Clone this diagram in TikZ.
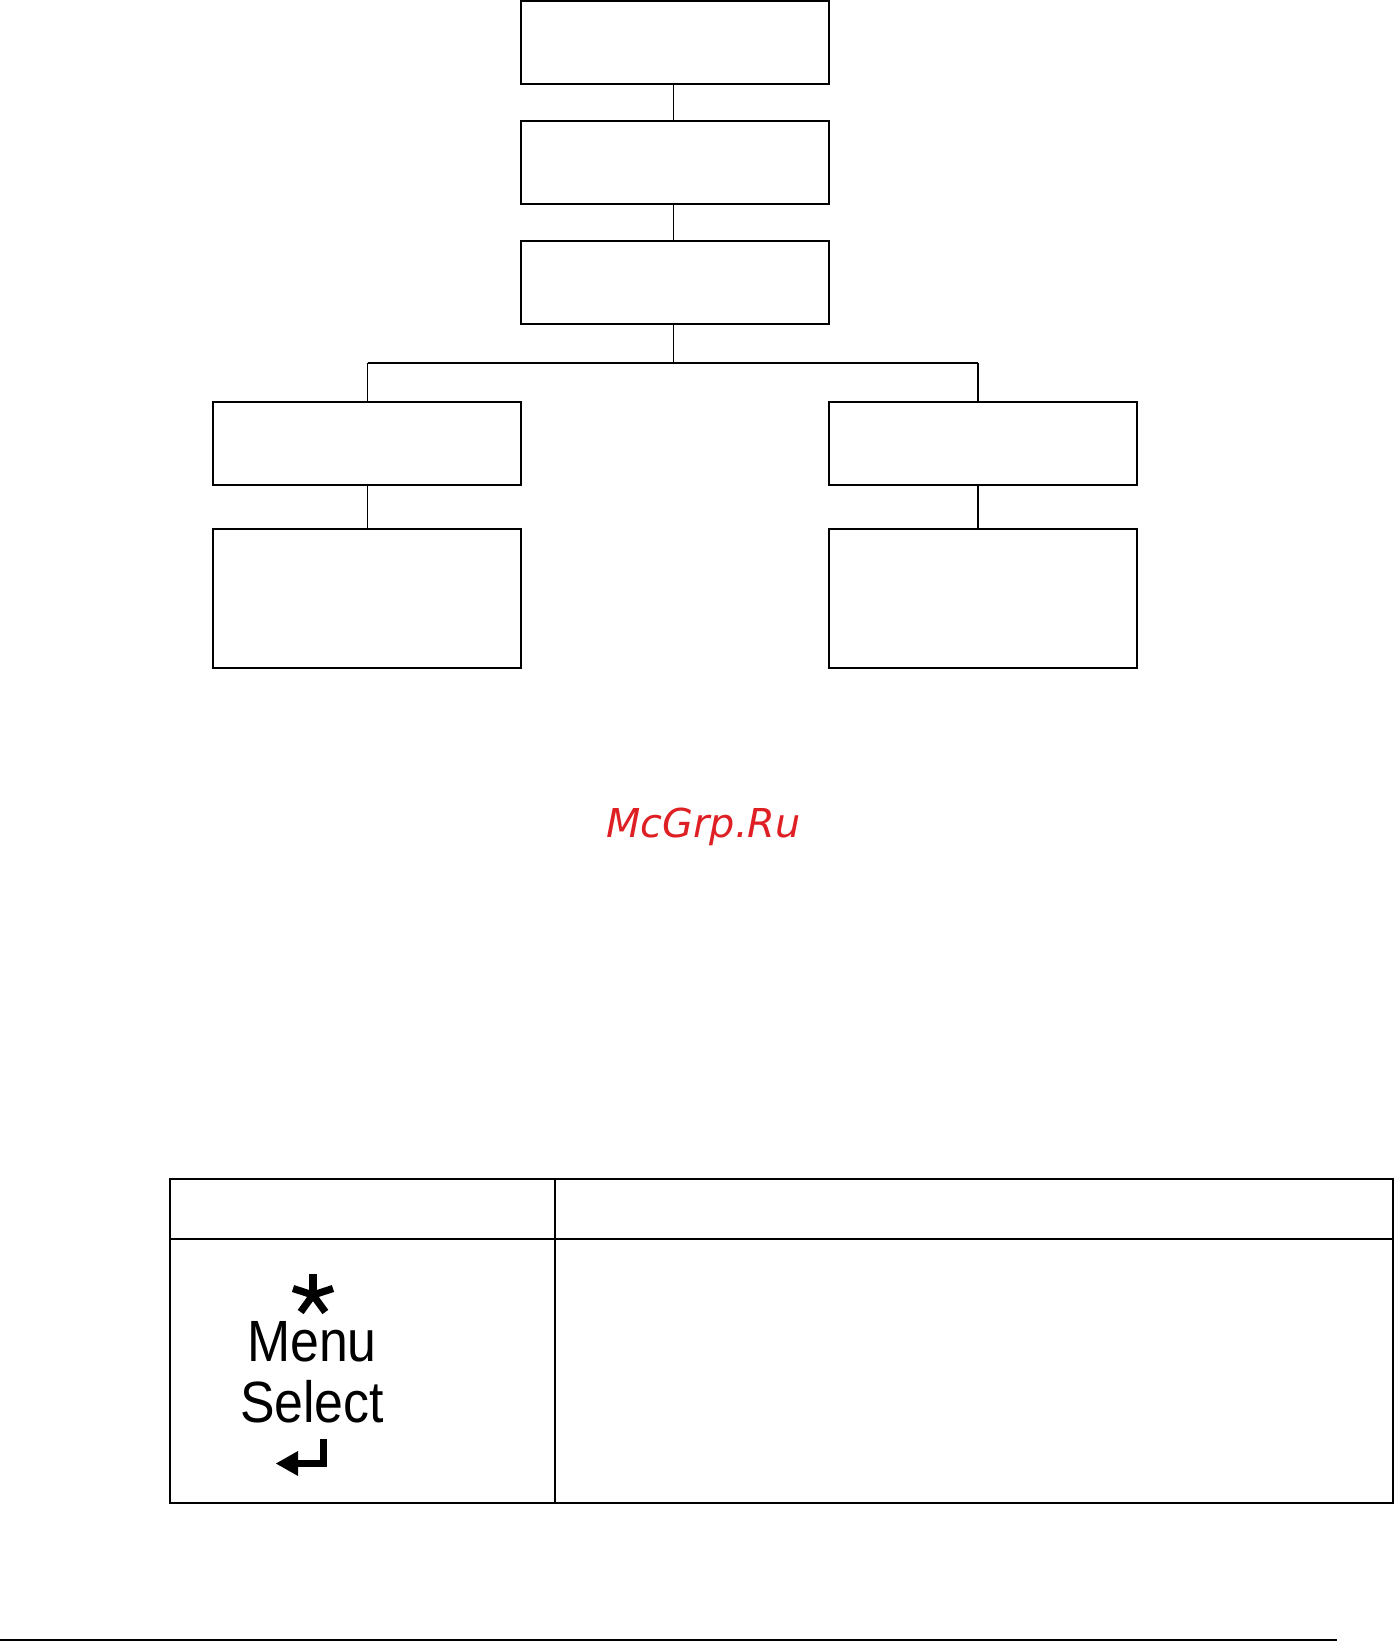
\documentclass[tikz,border=0pt]{standalone}
\usepackage{fontspec}
\setmainfont{Liberation Sans}
\newfontfamily\keyfont[FakeStretch=0.89]{Liberation Sans}
\newfontfamily\wmfont{DejaVu Sans}
\usetikzlibrary{positioning}
\definecolor{wmred}{RGB}{222,32,36}

\begin{document}
\begin{tikzpicture}[x=0.5pt, y=-0.5pt,
  menubox/.style={draw, line width=1pt, inner sep=0pt, minimum width=154pt, minimum height=41.5pt},
  tallbox/.style={menubox, minimum height=69.5pt},
  thinlink/.style={line width=0.5pt},
  thicklink/.style={line width=1pt},
  keytext/.style={anchor=base, inner sep=0pt, font=\keyfont\fontsize{29.1}{35}\selectfont}]

\useasboundingbox (0,0) rectangle (1395,1642);

% Menu tree
\node[menubox] (top) at (674.5,42.5) {};
\node[menubox] (second) at (674.5,162.5) {};
\node[menubox] (third) at (674.5,282.5) {};
\node[menubox] (midL) at (366.5,443) {};
\node[menubox] (midR) at (982.5,443) {};
\node[tallbox] (lowL) at (366.5,598.5) {};
\node[tallbox] (lowR) at (982.5,598.5) {};

\coordinate (fork) at (673.5,363);
\coordinate (forkL) at (367.5,363);
\coordinate (forkR) at (977.5,363);

\draw[thinlink] (top.south -| fork) -- (second.north -| fork);
\draw[thinlink] (second.south -| fork) -- (third.north -| fork);
\draw[thinlink] (third.south -| fork) -- (fork);
\draw[thicklink] (forkL) -- (forkR);
\draw[thinlink] (forkL) -- (midL.north -| forkL);
\draw[thicklink] (forkR) -- (midR.north -| forkR);
\draw[thinlink] (midL.south -| forkL) -- (lowL.north -| forkL);
\draw[thicklink] (midR.south -| forkR) -- (lowR.north -| forkR);

% Watermark
\node[anchor=base, inner sep=0pt, text=wmred, font=\wmfont\itshape\fontsize{19.9}{24}\selectfont] (wm) at (703.5,837) {McGrp.Ru};

% Key table
\draw[line width=1pt] (170,1179) rectangle (1393,1503);
\draw[line width=1pt] (170,1239) -- (1393,1239);
\draw[line width=1pt] (555,1179) -- (555,1503);

% Key symbol
\foreach \a in {270,342,54,126,198}
  \draw[line width=3.6pt] (313,1295) -- ++(\a:21);
\node[keytext] (menu) at (312,1361.7) {Menu};
\node[keytext] (select) at (312,1422.3) {Select};
\fill (320,1439) rectangle (327,1467);
\fill (296,1460) rectangle (327,1467);
\fill (276,1463.5) -- (298,1451) -- (298,1476) -- cycle;

% Page rule
\draw[line width=1pt] (0,1640) -- (1337,1640);

\end{tikzpicture}
\end{document}
